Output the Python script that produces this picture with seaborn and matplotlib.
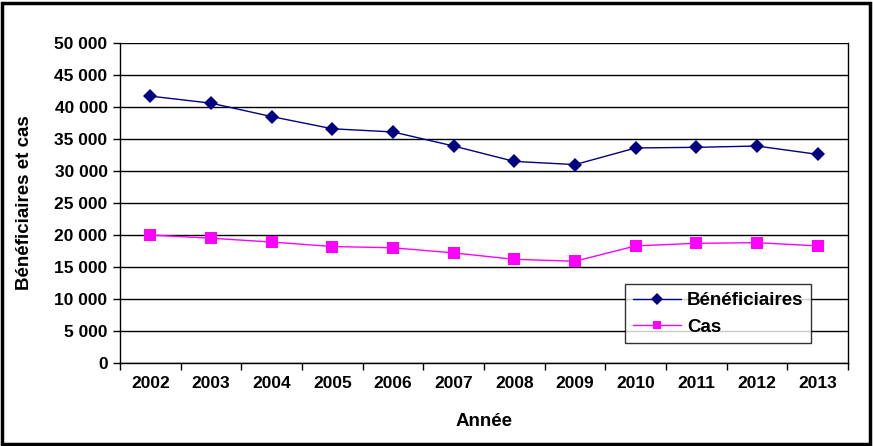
import matplotlib
matplotlib.use("Agg")
from matplotlib import pyplot as plt
from matplotlib.patches import Rectangle
from matplotlib.ticker import FuncFormatter, FixedLocator
import pandas as pd
import seaborn as sns

years = ['2002', '2003', '2004', '2005', '2006', '2007',
         '2008', '2009', '2010', '2011', '2012', '2013']
beneficiaires = [41700, 40600, 38500, 36600, 36100, 33900,
                 31500, 31000, 33600, 33700, 33900, 32600]
cas = [20000, 19500, 18900, 18200, 18000, 17200,
       16200, 15900, 18300, 18700, 18800, 18300]

df = pd.DataFrame({'Année': years, 'Bénéficiaires': beneficiaires, 'Cas': cas})
long_df = df.melt(id_vars='Année', var_name='serie', value_name='valeur')

sns.set_theme(style='white')
plt.rcParams['font.family'] = ['Liberation Sans', 'DejaVu Sans']
plt.rcParams['font.weight'] = 'bold'

fig = plt.figure(figsize=(8.73, 4.46), dpi=100)
ax = fig.add_axes([120 / 873, 83 / 446, 728 / 873, 320 / 446])

sns.lineplot(data=long_df, x='Année', y='valeur', hue='serie', style='serie',
             markers={'Bénéficiaires': 'D', 'Cas': 's'}, dashes=False,
             palette={'Bénéficiaires': '#000080', 'Cas': '#FF00FF'},
             markersize=8, linewidth=1, markeredgewidth=0, ax=ax, sort=False)
ax.lines[0].set_markersize(7)

ax.set_xlim(-0.5, 11.5)
ax.set_ylim(0, 50000)
ax.yaxis.set_major_locator(FixedLocator(range(0, 50001, 5000)))
ax.yaxis.set_major_formatter(FuncFormatter(lambda v, p: f"{int(v):,}".replace(',', ' ')))
ax.grid(axis='y', color='black', linewidth=1)
ax.set_axisbelow(True)

# ticks between categories
ax.set_xticks([i - 0.5 for i in range(13)], minor=True)
ax.set_xticks(range(12))
ax.set_xticklabels(years)
ax.tick_params(axis='x', which='major', length=0, pad=9, labelsize=12.5)
ax.tick_params(axis='x', which='minor', length=5, width=1, color='black', direction='out', bottom=True)
ax.tick_params(axis='y', length=5, width=1, color='black', direction='out', left=True, labelsize=12.5, pad=4)
plt.setp(ax.get_xticklabels() + ax.get_yticklabels(), fontweight='bold', color='black')

for side in ['left', 'bottom', 'right']:
    ax.spines[side].set_color('black')
    ax.spines[side].set_linewidth(1)
ax.spines['top'].set_visible(False)

ax.set_xlabel('Année', fontsize=13.5, fontweight='bold', labelpad=16, color='black')
ax.set_ylabel('Bénéficiaires et cas', fontsize=13.5, fontweight='bold', labelpad=15, color='black')

leg = ax.legend(title=None, loc='lower right', bbox_to_anchor=(0.962, 0.033),
                frameon=True, fancybox=False, fontsize=13.5, borderpad=0.4,
                handlelength=2.6, handletextpad=0.3, labelspacing=0.5, markerscale=0.8)
leg.get_frame().set_edgecolor('black')
leg.get_frame().set_linewidth(1)
for t in leg.get_texts():
    t.set_fontweight('bold')
    t.set_color('black')

fig.patches.append(Rectangle((0.002, 0.004), 0.994, 0.99, transform=fig.transFigure,
                             fill=False, edgecolor='black', linewidth=2.5))

fig.savefig('out.png', dpi=100)
